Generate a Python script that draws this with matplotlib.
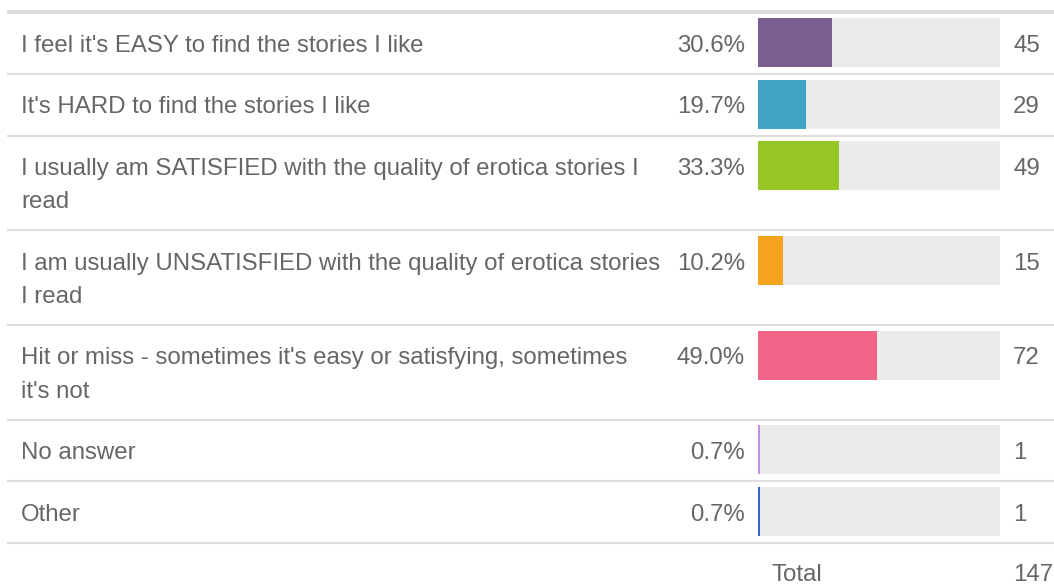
import matplotlib
matplotlib.use("Agg")
import matplotlib.pyplot as plt

# data
answers = [
    "I feel it's EASY to find the stories I like",
    "It's HARD to find the stories I like",
    "I usually am SATISFIED with the quality of erotica stories I\nread",
    "I am usually UNSATISFIED with the quality of erotica stories\nI read",
    "Hit or miss - sometimes it's easy or satisfying, sometimes\nit's not",
    "No answer",
    "Other",
]
percents = [30.6, 19.7, 33.3, 10.2, 49.0, 0.7, 0.7]
counts = [45, 29, 49, 15, 72, 1, 1]
total = 147
bar_colors = ["#7B5E92", "#3FA3C4", "#95C625", "#F5A31C", "#F06487", "#C38FE0", "#3366CC"]

# layout (pixels)
W, H = 1054, 584
TEXT = "#666666"
SEP = "#DDDDDD"
FS = 17.3
plt.rcParams['font.family'] = ['Liberation Sans', 'DejaVu Sans']

fig = plt.figure(figsize=(W / 100, H / 100), dpi=100)
bg = fig.add_axes([0, 0, 1, 1])
bg.set_xlim(0, W)
bg.set_ylim(H, 0)
bg.axis("off")

track_x0, track_w = 758, 242
bars = fig.add_axes([track_x0 / W, 0, track_w / W, 1])
bars.set_xlim(0, 100)
bars.set_ylim(H, 0)
bars.axis("off")

# row tops
top = 12.5
row_tops = []
row_h = []
for a in answers:
    h = 94.8 if "\n" in a else 61.5
    row_tops.append(top)
    row_h.append(h)
    top += h

bg.hlines(11.5, 7, W, color=SEP, lw=2.9)
bg.hlines([t + h for t, h in zip(row_tops, row_h)], 7, W, color=SEP, lw=1.5)

bar_h = 49
centers = [t + 5.5 + bar_h / 2 for t in row_tops]
bars.barh(centers, [100] * len(answers), height=bar_h, color="#EBEBEB", lw=0)
bars.barh(centers, percents, height=bar_h, color=bar_colors, lw=0)

for t, a, p, c in zip(row_tops, answers, percents, counts):
    base = t + 39.3
    for i, line in enumerate(a.split("\n")):
        bg.text(21, base + i * 33.5, line, fontsize=FS, color=TEXT, va="baseline", ha="left")
    bg.text(745, base, f"{p:.1f}%", fontsize=FS, color=TEXT, va="baseline", ha="right")
    bg.text(1013, base, str(c), fontsize=FS, color=TEXT, va="baseline", ha="left")

bg.text(772, 581, "Total", fontsize=FS, color=TEXT, va="baseline", ha="left")
bg.text(1013, 581, str(total), fontsize=FS, color=TEXT, va="baseline", ha="left")

fig.savefig("out.png", dpi=100)
